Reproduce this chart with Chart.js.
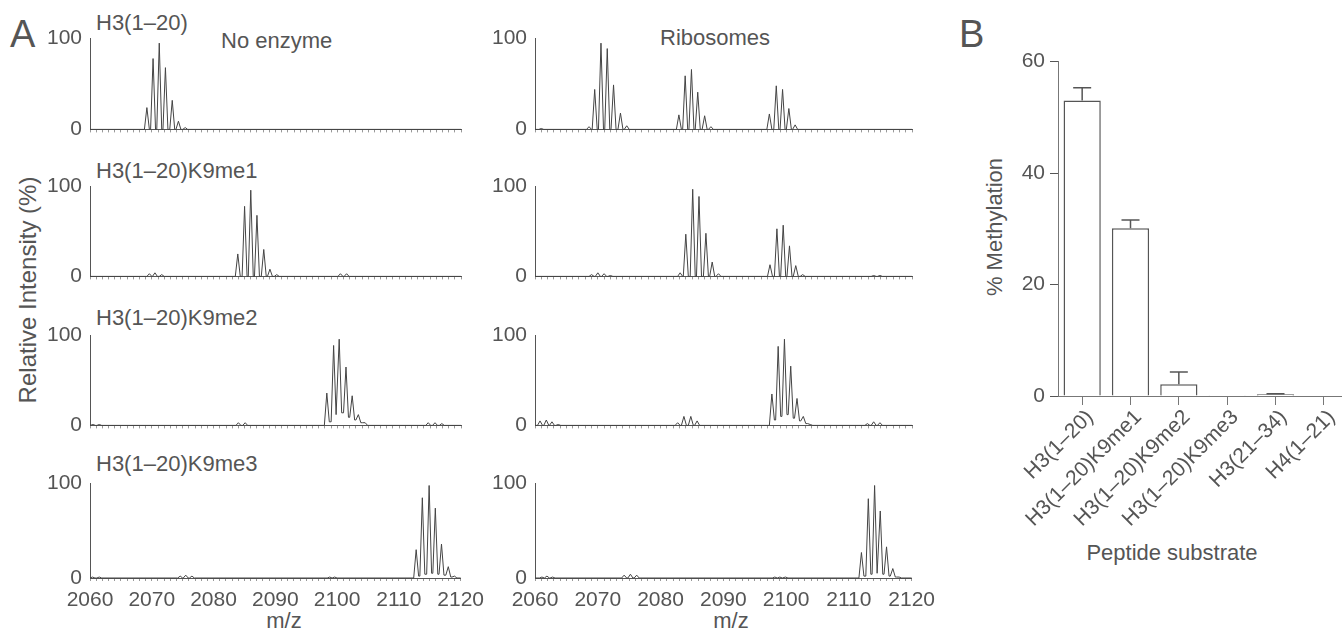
<!DOCTYPE html>
<html>
<head>
<meta charset="utf-8">
<title>Histone peptide methylation</title>
<script src="https://cdn.jsdelivr.net/npm/chart.js@4.4.1/dist/chart.umd.min.js"></script>
<style>
  body { margin: 0; width: 1342px; height: 629px; overflow: hidden; background: #fff; position: relative;
         font-family: "Liberation Sans", Arial, Helvetica, sans-serif; color: #555; }
  canvas { position: absolute; }
  .txt { position: absolute; white-space: nowrap; line-height: 1; font-size: 22px; }
  .panel { font-size: 38px; }
  .ctr { transform: translateX(-50%); }
  .rot { transform: translate(-50%, -50%) rotate(-90deg); }
</style>
</head>
<body>
<div class="txt panel" style="left:10px;top:15px">A</div>
<div class="txt panel" style="left:959px;top:15px">B</div>

<div class="txt" style="left:96px;top:12px">H3(1–20)</div>
<div class="txt" style="left:96px;top:160px">H3(1–20)K9me1</div>
<div class="txt" style="left:96px;top:307px">H3(1–20)K9me2</div>
<div class="txt" style="left:96px;top:453px">H3(1–20)K9me3</div>
<div class="txt" style="left:221px;top:30px">No enzyme</div>
<div class="txt" style="left:660px;top:27px">Ribosomes</div>
<div class="txt rot" style="left:28px;top:290px;font-size:24px">Relative Intensity (%)</div>
<div class="txt ctr" style="left:284px;top:610px">m/z</div>
<div class="txt ctr" style="left:731px;top:610px">m/z</div>

<div class="txt rot" style="left:995px;top:227px">% Methylation</div>
<div class="txt ctr" style="left:1172px;top:542px">Peptide substrate</div>

<script>
//------------------------------------------------------------------//
//------------------------------ DATA ------------------------------//
//------------------------------------------------------------------//
const mzMin = 2060;
const mzMax = 2120;
const mzTickLabels = [2060, 2070, 2080, 2090, 2100, 2110, 2120];
const intensityTicks = [0, 100];

// isotope peaks: [m/z, relative intensity (%), valley after the peak]
const h3NoEnzyme = [
    [2069.2, 24], [2070.2, 78], [2071.2, 95], [2072.2, 68], [2073.3, 32], [2074.3, 9], [2075.4, 2]
];
const h3Ribosomes = [
    [2061.0, 1],
    [2068.6, 3], [2069.5, 44], [2070.5, 95], [2071.5, 89], [2072.5, 49], [2073.6, 18], [2074.6, 4],
    [2082.9, 16], [2083.9, 59], [2084.9, 66], [2085.9, 41], [2087.0, 15], [2088.0, 3],
    [2097.3, 17], [2098.4, 48], [2099.4, 44], [2100.4, 23], [2101.4, 5]
];
const me1NoEnzyme = [
    [2069.6, 3], [2070.5, 4], [2071.6, 2],
    [2083.9, 25], [2085.0, 78], [2086.0, 96], [2087.0, 68], [2088.1, 30], [2089.1, 8], [2090.2, 2],
    [2100.5, 3], [2101.5, 3]
];
const me1Ribosomes = [
    [2069.0, 2], [2070.0, 4], [2071.0, 3], [2072.0, 1],
    [2083.1, 4], [2084.0, 47], [2085.1, 97], [2086.1, 89], [2087.2, 48], [2088.2, 16], [2089.2, 3],
    [2097.4, 13], [2098.5, 53], [2099.5, 57], [2100.5, 34], [2101.5, 12], [2102.6, 2],
    [2113.9, 1], [2114.9, 1]
];
const me2NoEnzyme = [
    [2060.5, 1], [2061.5, 1],
    [2084.0, 3], [2085.1, 3],
    [2098.3, 36, 4], [2099.4, 89, 12], [2100.3, 96, 14], [2101.4, 65, 9], [2102.4, 33, 6], [2103.4, 12, 3], [2104.5, 3],
    [2114.7, 3], [2115.8, 3], [2116.9, 2]
];
const me2Ribosomes = [
    [2060.8, 5], [2061.8, 6], [2062.7, 4], [2063.7, 1],
    [2082.7, 3], [2083.7, 10], [2084.8, 10], [2085.8, 5],
    [2097.7, 35, 6], [2098.7, 88, 10], [2099.7, 96, 12], [2100.7, 66, 8], [2101.7, 30, 5], [2102.7, 10, 2], [2103.8, 1],
    [2112.9, 2], [2113.9, 4], [2114.9, 3]
];
const me3NoEnzyme = [
    [2060.4, 1], [2061.5, 1],
    [2074.6, 2], [2075.5, 3], [2076.5, 2],
    [2098.8, 1], [2099.6, 1],
    [2112.8, 30, 2], [2113.8, 85, 4], [2114.9, 98, 5], [2115.9, 74, 4], [2116.9, 36, 3], [2118.0, 12, 1], [2119.0, 2]
];
const me3Ribosomes = [
    [2061.1, 1], [2061.9, 2], [2062.8, 1],
    [2074.2, 3], [2075.2, 4], [2076.2, 3],
    [2098.2, 1], [2099.0, 1], [2099.9, 1],
    [2112.0, 27, 2], [2113.1, 84, 4], [2114.1, 98, 5], [2115.0, 71, 4], [2116.0, 33, 2], [2117.0, 10, 1], [2118.0, 1]
];

// panel B
const substrates = ['H3(1–20)', 'H3(1–20)K9me1', 'H3(1–20)K9me2', 'H3(1–20)K9me3', 'H3(21–34)', 'H4(1–21)'];
const methylation = [53.0, 30.1, 2.1, 0.15, 0.3, 0];
const methylationSem = [2.3, 1.5, 2.2, 0, 0.1, 0];
const methylationTicks = [0, 20, 40, 60];

//------------------------------------------------------------------//
//----------------------------- LAYOUT -----------------------------//
//------------------------------------------------------------------//
Chart.defaults.font.family = '"Liberation Sans", Arial, Helvetica, sans-serif';
Chart.defaults.color = '#555';

const columns = [{ left: 90, right: 461 }, { left: 535, right: 912 }];
const rows = [
    { top: 34, bottom: 140 },
    { top: 182, bottom: 287 },
    { top: 331, bottom: 436 },
    { top: 479, bottom: 578 }
];
const spectra = [
    [h3NoEnzyme, h3Ribosomes],
    [me1NoEnzyme, me1Ribosomes],
    [me2NoEnzyme, me2Ribosomes],
    [me3NoEnzyme, me3Ribosomes]
];

function makeCanvas(left, top, width, height) {
    const canvas = document.createElement('canvas');
    canvas.width = width;
    canvas.height = height;
    canvas.style.left = left + 'px';
    canvas.style.top = top + 'px';
    document.body.appendChild(canvas);
    return canvas;
}

// line through every peak: foot, top, foot
function trace(peaks) {
    const pts = [{ x: mzMin, y: 0 }];
    let floor = 0;
    peaks.forEach(([mz, height, valley = 0]) => {
        pts.push({ x: mz - 0.4, y: floor }, { x: mz, y: height }, { x: mz + 0.4, y: valley });
        floor = valley;
    });
    pts.push({ x: mzMax, y: 0 });
    return pts;
}

function drawSpectrum(peaks, col, row, showLabels) {
    const yW = 60, padTop = 16, padRight = 30;
    const xH = showLabels ? 44 : 10;
    const canvas = makeCanvas(col.left - yW, row.top - padTop,
        yW + (col.right - col.left) + padRight, padTop + (row.bottom - row.top) + xH);

    new Chart(canvas, {
        type: 'line',
        data: {
            datasets: [{
                data: trace(peaks),
                borderColor: '#444',
                borderWidth: 1,
                pointRadius: 0,
                tension: 0,
                fill: false,
                clip: false
            }]
        },
        options: {
            responsive: false,
            animation: false,
            events: [],
            layout: { padding: { top: padTop, right: padRight, left: 0, bottom: 0 } },
            plugins: { legend: { display: false }, tooltip: { enabled: false } },
            scales: {
                x: {
                    type: 'linear',
                    min: mzMin,
                    max: mzMax,
                    afterFit: s => { s.height = xH; },
                    grid: { drawOnChartArea: false, tickLength: 3, color: '#999' },
                    border: { color: '#555', width: 1 },
                    ticks: {
                        stepSize: 1, maxTicksLimit: 100, autoSkip: false,
                        minRotation: 0, maxRotation: 0, padding: 7,
                        font: { size: 21 },
                        callback: v => (showLabels && mzTickLabels.includes(v)) ? String(v) : ''
                    }
                },
                y: {
                    min: intensityTicks[0],
                    max: intensityTicks[intensityTicks.length - 1],
                    afterFit: s => { s.width = yW; },
                    grid: { drawOnChartArea: false, drawTicks: false },
                    border: { color: '#555', width: 1 },
                    ticks: { stepSize: 100, padding: 8, font: { size: 21 } }
                }
            }
        }
    });
}

// error bars go up from each bar top
const errorBars = {
    id: 'errorBars',
    afterDatasetsDraw(chart) {
        const { ctx, scales: { y } } = chart;
        const meta = chart.getDatasetMeta(0);
        ctx.save();
        ctx.strokeStyle = '#555';
        ctx.lineWidth = 1.5;
        meta.data.forEach((bar, i) => {
            const err = methylationSem[i];
            if (!err) return;
            const top = y.getPixelForValue(methylation[i] + err);
            ctx.beginPath();
            ctx.moveTo(bar.x, bar.y);
            ctx.lineTo(bar.x, top);
            ctx.moveTo(bar.x - 9, top);
            ctx.lineTo(bar.x + 9, top);
            ctx.stroke();
        });
        ctx.restore();
    }
};

function drawBars() {
    const yW = 58, padTop = 14, padRight = 12, areaW = 290, areaH = 338, xH = 140;
    const canvas = makeCanvas(1000, 58 - padTop, yW + areaW + padRight, padTop + areaH + xH);

    new Chart(canvas, {
        type: 'bar',
        data: {
            labels: substrates,
            datasets: [{
                data: methylation,
                backgroundColor: '#fff',
                borderColor: '#555',
                borderWidth: 1.5,
                barPercentage: 0.77,
                categoryPercentage: 1
            }]
        },
        options: {
            responsive: false,
            animation: false,
            events: [],
            layout: { padding: { top: padTop, right: padRight, left: 0, bottom: 0 } },
            plugins: { legend: { display: false }, tooltip: { enabled: false } },
            scales: {
                x: {
                    afterFit: s => { s.height = xH; },
                    grid: { drawOnChartArea: false, offset: false, tickLength: 9, color: '#777' },
                    border: { color: '#777', width: 1 },
                    ticks: { minRotation: 45, maxRotation: 45, autoSkip: false, padding: 0, labelOffset: 8, font: { size: 21 } }
                },
                y: {
                    min: methylationTicks[0],
                    max: methylationTicks[methylationTicks.length - 1],
                    afterFit: s => { s.width = yW; },
                    grid: { drawOnChartArea: false, tickLength: 8, color: '#555' },
                    border: { color: '#777', width: 1 },
                    ticks: { stepSize: methylationTicks[1] - methylationTicks[0], padding: 5, font: { size: 21 } }
                }
            }
        },
        plugins: [errorBars]
    });
}

//------------------------------------------------------------------//
//------------------------------ DRAW ------------------------------//
//------------------------------------------------------------------//
spectra.forEach((pair, r) => {
    pair.forEach((peaks, c) => drawSpectrum(peaks, columns[c], rows[r], r === rows.length - 1));
});
drawBars();
</script>
</body>
</html>
